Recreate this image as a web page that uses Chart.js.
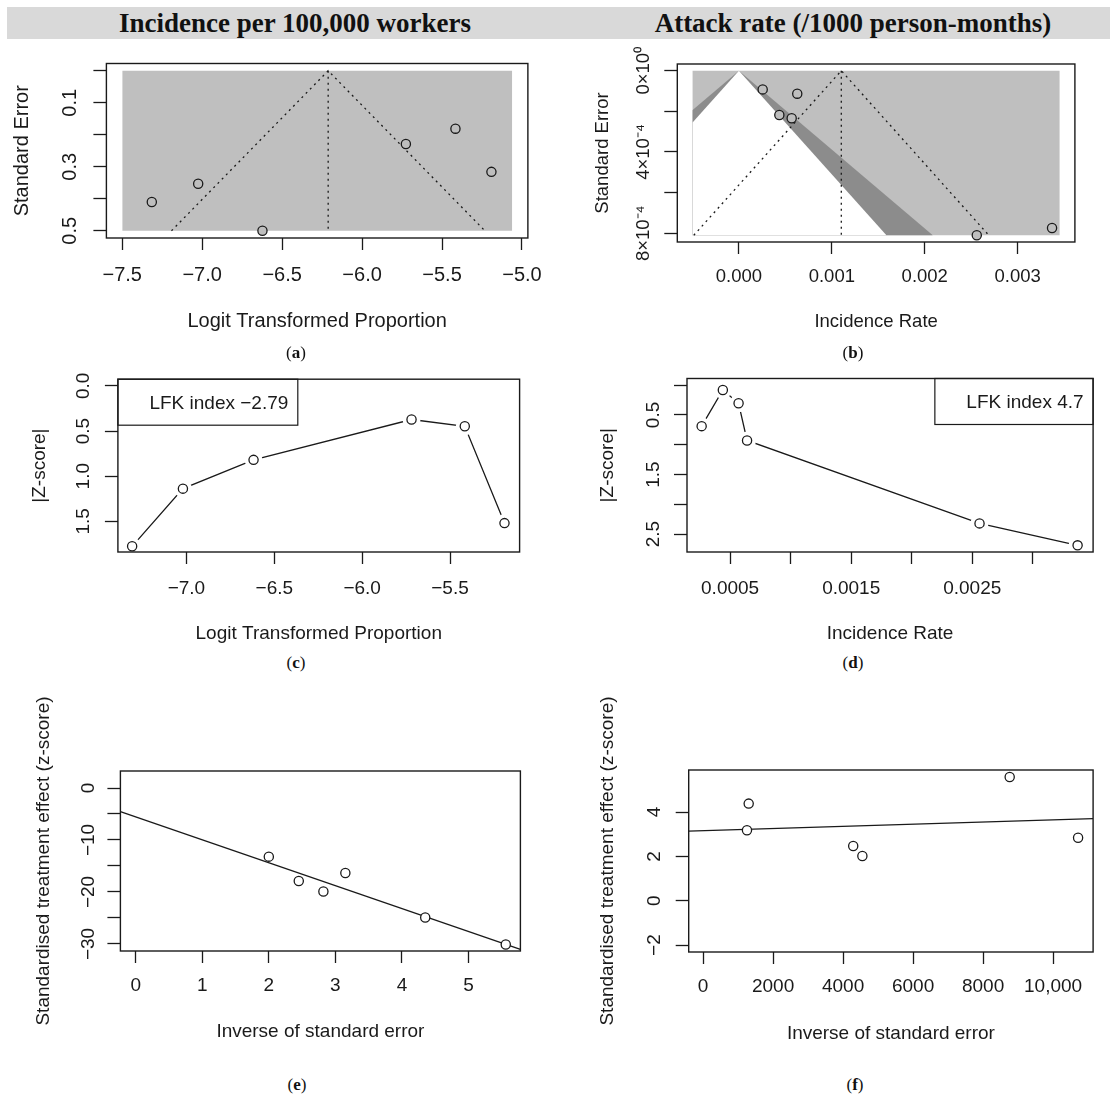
<!DOCTYPE html>
<html>
<head>
<meta charset="utf-8">
<title>Funnel, Doi and Galbraith plots</title>
<script src="https://cdn.jsdelivr.net/npm/chart.js@4.4.1/dist/chart.umd.min.js"></script>
<style>
  body { margin: 0; background: #fff; }
  #page { position: relative; width: 1110px; height: 1097px; overflow: hidden;
          font-family: 'Liberation Serif', 'Times New Roman', serif; color: #111; }
  .band { position: absolute; left: 7px; top: 7px; width: 1103px; height: 32px; background: #d9d9d9; }
  .head { position: absolute; top: 7px; width: 560px; height: 32px; line-height: 33px;
          font-size: 27px; font-weight: bold; text-align: center; white-space: nowrap; }
  .cap { position: absolute; width: 60px; height: 20px; line-height: 20px; font-size: 17px;
         text-align: center; }
  canvas { position: absolute; }
</style>
</head>
<body>
<div id="page">
  <div class="band"></div>
  <div class="head" style="left:15px">Incidence per 100,000 workers</div>
  <div class="head" style="left:573px">Attack rate (/1000 person-months)</div>

  <canvas id="plotA"></canvas>
  <canvas id="plotB"></canvas>
  <canvas id="plotC"></canvas>
  <canvas id="plotD"></canvas>
  <canvas id="plotE"></canvas>
  <canvas id="plotF"></canvas>

  <div class="cap" style="left:266px;top:343px">(<b>a</b>)</div>
  <div class="cap" style="left:823px;top:343px">(<b>b</b>)</div>
  <div class="cap" style="left:266px;top:653px">(<b>c</b>)</div>
  <div class="cap" style="left:823px;top:653px">(<b>d</b>)</div>
  <div class="cap" style="left:267px;top:1075px">(<b>e</b>)</div>
  <div class="cap" style="left:825px;top:1075px">(<b>f</b>)</div>
</div>

<script>
/* ===============================
   DATA
================================= */

// (a) funnel plot, logit transformed proportion
const aLogit = [-7.315, -7.025, -6.623, -5.726, -5.416, -5.191];
const aSE = [0.410, 0.353, 0.500, 0.229, 0.181, 0.316];
const aPooled = -6.212;
const aShadeX = [-7.5, -5.061];
const aShadeSE = [0, 0.5];
const aXTicks = [-7.5, -7.0, -6.5, -6.0, -5.5, -5.0];
const aXLabels = ["−7.5", "−7.0", "−6.5", "−6.0", "−5.5", "−5.0"];
const aYTicks = [0, 0.1, 0.2, 0.3, 0.4, 0.5];
const aYLabels = ["", "0.1", "", "0.3", "", "0.5"];

// (b) contour-enhanced funnel plot, incidence rate
const bRate = [0.000256, 0.000435, 0.000568, 0.000628, 0.00256, 0.00337];
const bSE = [0.000092, 0.000218, 0.000234, 0.000113, 0.00081, 0.000774];
const bPooled = 0.001102;
const bShadeX = [-0.000501, 0.003453];
const bShadeSE = [0, 0.00081];
const bContourZ = [1.96, 2.576];
const bXTicks = [0, 0.001, 0.002, 0.003];
const bXLabels = ["0.000", "0.001", "0.002", "0.003"];
const bYTicks = [0, 0.0002, 0.0004, 0.0006, 0.0008];
const bYLabels = ["0×10⁰", "", "4×10⁻⁴", "", "8×10⁻⁴"];

const funnelZ = 1.96;

// (c) Doi plot, logit transformed proportion
const cLogit = [-7.309, -7.02, -6.618, -5.719, -5.416, -5.19];
const cAbsZ = [1.777, 1.138, 0.819, 0.372, 0.447, 1.52];
const cLFK = -2.79;
const cXTicks = [-7.0, -6.5, -6.0, -5.5];
const cXLabels = ["−7.0", "−6.5", "−6.0", "−5.5"];
const cYTicks = [0, 0.5, 1.0, 1.5];
const cYLabels = ["0.0", "0.5", "1.0", "1.5"];

// (d) Doi plot, incidence rate
const dRate = [0.000265, 0.00044, 0.00057, 0.00064, 0.00256, 0.00337];
const dAbsZ = [0.688, 0.08, 0.304, 0.928, 2.32, 2.688];
const dLFK = 4.7;
const dXTicks = [0.0005, 0.001, 0.0015, 0.002, 0.0025, 0.003];
const dXLabels = ["0.0005", "", "0.0015", "", "0.0025", ""];
const dYTicks = [0, 0.5, 1.0, 1.5, 2.0, 2.5];
const dYLabels = ["", "0.5", "", "1.5", "", "2.5"];

// (e) Galbraith plot, proportions
const ePrecision = [2.0, 2.45, 2.82, 3.15, 4.35, 5.56];
const eZ = [-13.2, -17.9, -19.9, -16.35, -24.9, -30.1];
const eFit = [-5.55, -4.41];          // intercept, slope
const eXTicks = [0, 1, 2, 3, 4, 5];
const eXLabels = ["0", "1", "2", "3", "4", "5"];
const eYTicks = [0, -5, -10, -15, -20, -25, -30];
const eYLabels = ["0", "", "−10", "", "−20", "", "−30"];

// (f) Galbraith plot, incidence rate
const fPrecision = [1254, 1303, 4289, 4551, 8760, 10714];
const fZ = [3.18, 4.38, 2.47, 2.02, 5.58, 2.84];
const fFit = [3.16, 0.0000485];       // intercept, slope
const fXTicks = [0, 2000, 4000, 6000, 8000, 10000];
const fXLabels = ["0", "2000", "4000", "6000", "8000", "10,000"];
const fYTicks = [4, 2, 0, -2];
const fYLabels = ["4", "2", "0", "−2"];

/* ===============================
   COMMON STYLE
================================= */

const SANS = "'Liberation Sans', Arial, Helvetica, sans-serif";
const INK = "#1a1a1a";
const SHADE = "#bfbfbf";
const SHADE_DARK = "#8c8c8c";
const X_TICK_LEN = 12;
const Y_TICK_LEN = 13;

const frame = {
  id: "frame",
  afterDraw(chart) {
    const { ctx, chartArea: a } = chart;
    ctx.save();
    ctx.strokeStyle = INK;
    ctx.lineWidth = 1.4;
    ctx.strokeRect(a.left, a.top, a.right - a.left, a.bottom - a.top);
    ctx.restore();
  }
};

const lfkBox = {
  id: "lfkBox",
  afterDatasetsDraw(chart, args, opts) {
    const { ctx, chartArea: a } = chart;
    ctx.save();
    ctx.font = opts.size + "px " + SANS;
    const w = ctx.measureText(opts.text).width + 41;
    const h = 46;
    const x = opts.side === "right" ? a.right - w : a.left;
    ctx.fillStyle = "#fff";
    ctx.fillRect(x, a.top, w, h);
    ctx.strokeStyle = INK;
    ctx.lineWidth = 1.2;
    ctx.strokeRect(x, a.top, w, h);
    ctx.fillStyle = INK;
    ctx.textAlign = "right";
    ctx.textBaseline = "middle";
    ctx.fillText(opts.text, x + w - 9.5, a.top + 24.5);
    ctx.restore();
  }
};

function pts(xs, ys) {
  return xs.map((x, i) => ({ x: x, y: ys[i] }));
}

function minusSign(v) {
  return String(v).replace("-", "−");
}

function widestLabel(labels, size) {
  const ctx = document.createElement("canvas").getContext("2d");
  ctx.font = size + "px " + SANS;
  return Math.max(...labels.map(l => ctx.measureText(l).width));
}

function shadeSet(data, toValue, color, order) {
  return {
    data: data,
    showLine: true,
    fill: { value: toValue },
    backgroundColor: color,
    borderColor: "rgba(0,0,0,0)",
    borderWidth: 0,
    pointRadius: 0,
    order: order
  };
}

function lineSet(data, dash, order) {
  return {
    data: data,
    showLine: true,
    borderColor: INK,
    borderWidth: 1.3,
    borderDash: dash,
    pointRadius: 0,
    order: order
  };
}

function pointSet(data, fillColor, radius, order) {
  return {
    data: data,
    showLine: false,
    pointRadius: radius,
    pointBackgroundColor: fillColor,
    pointBorderColor: INK,
    pointBorderWidth: 1.3,
    order: order
  };
}

// open circles with the line broken around them (R type = "b")
function brokenLineSets(data) {
  return [
    pointSet(data, "#fff", 4.6, 0),
    {
      data: data, showLine: false, pointRadius: 9,
      pointBackgroundColor: "#fff", pointBorderColor: "rgba(0,0,0,0)",
      pointBorderWidth: 0, order: 1
    },
    lineSet(data, [], 2)
  ];
}

/* ===============================
   PANEL BUILDER
================================= */

function makePanel(id, p) {
  const canvas = document.getElementById(id);
  canvas.setAttribute("width", p.cell.w);
  canvas.setAttribute("height", p.cell.h);
  canvas.style.left = p.cell.x + "px";
  canvas.style.top = p.cell.y + "px";

  const fs = p.fontSize;
  const font = { family: SANS, size: fs };
  const widest = widestLabel(p.yLabels, fs);

  return new Chart(canvas, {
    type: "scatter",
    data: { datasets: p.datasets },
    options: {
      responsive: false,
      animation: false,
      events: [],
      layout: {
        padding: {
          left: 0,
          top: p.box.t - p.cell.y,
          right: p.cell.x + p.cell.w - p.box.r,
          bottom: 0
        }
      },
      plugins: {
        legend: { display: false },
        tooltip: { enabled: false },
        lfkBox: p.lfk || false
      },
      scales: {
        x: {
          type: "linear",
          position: "bottom",
          min: p.xRange[0],
          max: p.xRange[1],
          afterFit: s => { s.height = p.cell.y + p.cell.h - p.box.b; },
          afterBuildTicks: s => { s.ticks = p.xTicks.map(v => ({ value: v })); },
          grid: {
            display: true, drawOnChartArea: false, drawTicks: true,
            tickLength: X_TICK_LEN, tickWidth: 1.3, tickColor: INK
          },
          border: { display: false },
          ticks: {
            autoSkip: false, maxRotation: 0, minRotation: 0,
            font: font, color: INK,
            padding: p.xLabY - p.box.b - X_TICK_LEN - 0.6 * fs,
            callback: (v, i) => p.xLabels[i]
          },
          title: {
            display: true, text: p.xTitle, font: font, color: INK,
            padding: { top: 0, bottom: p.cell.y + p.cell.h - p.xTitleY - 0.6 * fs }
          }
        },
        y: {
          type: "linear",
          position: "left",
          reverse: !!p.reverse,
          min: p.yRange[0],
          max: p.yRange[1],
          afterFit: s => { s.width = p.box.l - p.cell.x; },
          afterBuildTicks: s => { s.ticks = p.yTicks.map(v => ({ value: v })); },
          grid: {
            display: true, drawOnChartArea: false, drawTicks: true,
            tickLength: Y_TICK_LEN, tickWidth: 1.3, tickColor: INK
          },
          border: { display: false },
          ticks: {
            autoSkip: false, minRotation: 90, maxRotation: 90,
            crossAlign: "center",
            font: font, color: INK,
            padding: p.yLabGap - Y_TICK_LEN - widest / 2,
            callback: (v, i) => p.yLabels[i]
          },
          title: {
            display: true, text: p.yTitle, font: font, color: INK,
            padding: { top: p.yTitleX - p.cell.x - 0.6 * fs, bottom: 0 }
          }
        }
      }
    },
    plugins: [frame, lfkBox]
  });
}

/* ===============================
   (a) FUNNEL
================================= */

const aSEmax = aShadeSE[1];
makePanel("plotA", {
  cell: { x: 0, y: 42, w: 555, h: 298 },
  box: { l: 106.4, t: 45, r: 533.9, b: 238 },
  fontSize: 20,
  xRange: [-7.599, -4.963], yRange: [-0.0226, 0.5226], reverse: true,
  xTicks: aXTicks, xLabels: aXLabels, yTicks: aYTicks, yLabels: aYLabels,
  xTitle: "Logit Transformed Proportion", yTitle: "Standard Error",
  xLabY: 275, xTitleY: 321.5, yLabGap: 36.4, yTitleX: 22.3,
  datasets: [
    pointSet(pts(aLogit, aSE), "#bebebe", 4.6, 0),
    lineSet([{ x: aPooled - funnelZ * aSEmax, y: aSEmax }, { x: aPooled, y: 0 },
             { x: aPooled + funnelZ * aSEmax, y: aSEmax }], [2, 4], 1),
    lineSet([{ x: aPooled, y: 0 }, { x: aPooled, y: aSEmax }], [2, 4], 1),
    shadeSet(pts(aShadeX, [aShadeSE[0], aShadeSE[0]]), aSEmax, SHADE, 10)
  ]
});

/* ===============================
   (b) CONTOUR FUNNEL
================================= */

const bSEmax = bShadeSE[1];
function contourEdge(z) {
  // |x| = z * SE, cut at the left side of the shaded area
  return [
    { x: bShadeX[0], y: -bShadeX[0] / z },
    { x: 0, y: 0 },
    { x: z * bSEmax, y: bSEmax }
  ];
}

makePanel("plotB", {
  cell: { x: 560, y: 42, w: 550, h: 298 },
  box: { l: 677.3, t: 64, r: 1074.9, b: 242 },
  fontSize: 18.5,
  xRange: [-0.000663, 0.003616], yRange: [-0.000033, 0.000843], reverse: true,
  xTicks: bXTicks, xLabels: bXLabels, yTicks: bYTicks, yLabels: bYLabels,
  xTitle: "Incidence Rate", yTitle: "Standard Error",
  xLabY: 276.7, xTitleY: 321.7, yLabGap: 33.3, yTitleX: 602.5,
  datasets: [
    pointSet(pts(bRate, bSE), "#bebebe", 4.6, 0),
    lineSet([{ x: bPooled - funnelZ * bSEmax, y: bSEmax }, { x: bPooled, y: 0 },
             { x: bPooled + funnelZ * bSEmax, y: bSEmax }], [2, 4], 1),
    lineSet([{ x: bPooled, y: 0 }, { x: bPooled, y: bSEmax }], [2, 4], 1),
    shadeSet(contourEdge(bContourZ[0]), bSEmax, "#ffffff", 8),
    shadeSet(contourEdge(bContourZ[1]), bSEmax, SHADE_DARK, 9),
    shadeSet(pts(bShadeX, [bShadeSE[0], bShadeSE[0]]), bSEmax, SHADE, 10)
  ]
});

/* ===============================
   (c) / (d) DOI PLOTS
================================= */

makePanel("plotC", {
  cell: { x: 0, y: 360, w: 555, h: 290 },
  box: { l: 117.9, t: 372, r: 519.6, b: 552 },
  fontSize: 19,
  xRange: [-7.39, -5.104], yRange: [-0.0745, 1.84], reverse: true,
  xTicks: cXTicks, xLabels: cXLabels, yTicks: cYTicks, yLabels: cYLabels,
  xTitle: "Logit Transformed Proportion", yTitle: "|Z-score|",
  xLabY: 588.3, xTitleY: 633.4, yLabGap: 34, yTitleX: 39.8,
  lfk: { text: "LFK index " + minusSign(cLFK), side: "left", size: 19 },
  datasets: brokenLineSets(pts(cLogit, cAbsZ))
});

makePanel("plotD", {
  cell: { x: 560, y: 360, w: 550, h: 290 },
  box: { l: 687, t: 370, r: 1093.1, b: 552 },
  fontSize: 19,
  xRange: [0.000144, 0.003498], yRange: [-0.112, 2.80], reverse: true,
  xTicks: dXTicks, xLabels: dXLabels, yTicks: dYTicks, yLabels: dYLabels,
  xTitle: "Incidence Rate", yTitle: "|Z-score|",
  xLabY: 588.3, xTitleY: 633.4, yLabGap: 33.3, yTitleX: 607.8,
  lfk: { text: "LFK index " + minusSign(dLFK), side: "right", size: 19 },
  datasets: brokenLineSets(pts(dRate, dAbsZ))
});

/* ===============================
   (e) / (f) GALBRAITH PLOTS
================================= */

const eXRange = [-0.23, 5.78];
makePanel("plotE", {
  cell: { x: 0, y: 680, w: 555, h: 380 },
  box: { l: 120.4, t: 771, r: 520.4, b: 951 },
  fontSize: 19,
  xRange: eXRange, yRange: [-31.35, 3.27],
  xTicks: eXTicks, xLabels: eXLabels, yTicks: eYTicks, yLabels: eYLabels,
  xTitle: "Inverse of standard error", yTitle: "Standardised treatment effect (z-score)",
  xLabY: 986, xTitleY: 1031.7, yLabGap: 32, yTitleX: 43.4,
  datasets: [
    pointSet(pts(ePrecision, eZ), "#fff", 4.6, 0),
    lineSet(eXRange.map(x => ({ x: x, y: eFit[0] + eFit[1] * x })), [], 1)
  ]
});

const fXRange = [-411, 11143];
makePanel("plotF", {
  cell: { x: 560, y: 680, w: 550, h: 380 },
  box: { l: 688.7, t: 770, r: 1093.1, b: 952 },
  fontSize: 19,
  xRange: fXRange, yRange: [-2.31, 5.895],
  xTicks: fXTicks, xLabels: fXLabels, yTicks: fYTicks, yLabels: fYLabels,
  xTitle: "Inverse of standard error", yTitle: "Standardised treatment effect (z-score)",
  xLabY: 986.7, xTitleY: 1033.3, yLabGap: 34, yTitleX: 607.8,
  datasets: [
    pointSet(pts(fPrecision, fZ), "#fff", 4.6, 0),
    lineSet(fXRange.map(x => ({ x: x, y: fFit[0] + fFit[1] * x })), [], 1)
  ]
});
</script>
</body>
</html>
